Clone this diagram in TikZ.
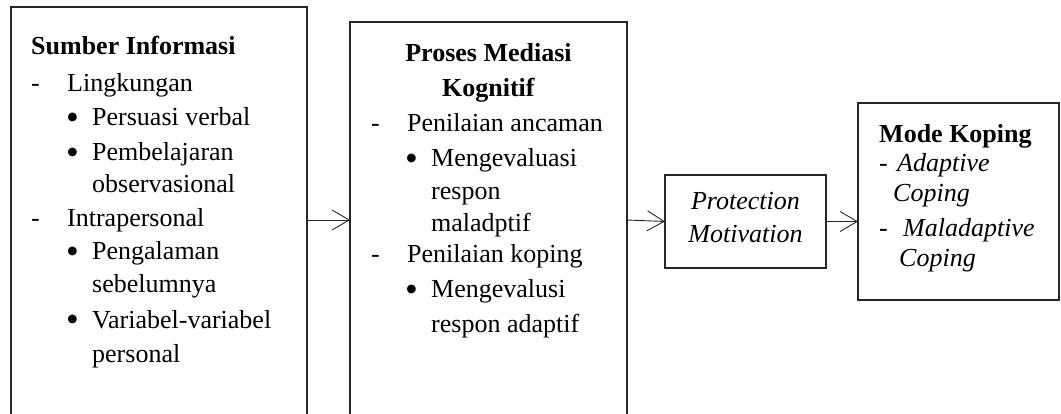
\documentclass[tikz,border=0pt]{standalone}
\usepackage{fontspec}
\setmainfont{Liberation Serif}
\usetikzlibrary{arrows.meta}
\newcommand\fsz{\fontsize{26pt}{30pt}\selectfont}
\newcommand\bul{\raisebox{-3.5pt}{\scalebox{1.4}{•}}}
\tikzset{
  box/.style={draw=black!85, line width=1.1pt, outer sep=0pt, inner sep=0pt, anchor=north west},
  txt/.style={anchor=base west, inner sep=0pt, font=\fsz},
  ctxt/.style={anchor=base, inner sep=0pt, font=\fsz},
  link/.style={draw=black!85, line width=0.9pt, -{Straight Barb[length=17pt,width=20pt]}}
}
\begin{document}
\begin{tikzpicture}[x=1pt,y=-1pt]
\path[use as bounding box] (0,0) rectangle (1061,414);
\clip (0,0) rectangle (1061,414);
% boxes
\node[box, minimum width=296pt, minimum height=426pt] (b1) at (11,7) {};
\node[box, minimum width=277pt, minimum height=396pt] (b2) at (350,22) {};
\node[box, minimum width=161pt, minimum height=93pt] (b3) at (665,175) {};
\node[box, minimum width=201pt, minimum height=197pt] (b4) at (858,103) {};
% box 1 text
\node[txt] (s1t) at (31,55) {\textbf{Sumber Informasi}};
\node[txt] (s1d1) at (31,92) {-};
\node[txt] (s1l1) at (67,92) {Lingkungan};
\node[txt] (s1b1) at (66,126) {\bul};
\node[txt] (s1l2) at (92,126) {Persuasi verbal};
\node[txt] (s1b2) at (66,161) {\bul};
\node[txt] (s1l3) at (92,161) {Pembelajaran};
\node[txt] (s1l4) at (92,193) {observasional};
\node[txt] (s1d2) at (31,227) {-};
\node[txt] (s1l5) at (67,227) {Intrapersonal};
\node[txt] (s1b3) at (66,260) {\bul};
\node[txt] (s1l6) at (92,260) {Pengalaman};
\node[txt] (s1l7) at (92,293) {sebelumnya};
\node[txt] (s1b4) at (66,328) {\bul};
\node[txt] (s1l8) at (92,328) {Variabel-variabel};
\node[txt] (s1l9) at (92,362) {personal};
% box 2 text
\node[ctxt] (s2t1) at (488.5,62) {\textbf{Proses Mediasi}};
\node[ctxt] (s2t2) at (488.5,97) {\textbf{Kognitif}};
\node[txt] (s2d1) at (371,132) {-};
\node[txt] (s2l1) at (407,132) {Penilaian ancaman};
\node[txt] (s2b1) at (405,167) {\bul};
\node[txt] (s2l2) at (431,167) {Mengevaluasi};
\node[txt] (s2l3) at (431,200) {respon};
\node[txt] (s2l4) at (431,232) {maladptif};
\node[txt] (s2d2) at (371,263) {-};
\node[txt] (s2l5) at (407,263) {Penilaian koping};
\node[txt] (s2b2) at (405,298) {\bul};
\node[txt] (s2l6) at (431,298) {Mengevalusi};
\node[txt] (s2l7) at (431,332) {respon adaptif};
% box 3 text
\node[ctxt] (s3l1) at (745.5,210) {\textit{Protection}};
\node[ctxt] (s3l2) at (745.5,243) {\textit{Motivation}};
% box 4 text
\node[txt] (s4t) at (879,143) {\textbf{Mode Koping}};
\node[txt] (s4d1) at (879,172) {-};
\node[txt] (s4l1) at (897,172) {\textit{Adaptive}};
\node[txt] (s4l2) at (893,202) {\textit{Coping}};
\node[txt] (s4d2) at (879,237) {-};
\node[txt] (s4l3) at (903,237) {\textit{Maladaptive}};
\node[txt] (s4l4) at (899,267) {\textit{Coping}};
% connectors
\draw[link] (b1.east) -- (b2.west);
\draw[link] (b2.east) -- (b3.west);
\draw[link] (b3.east) -- (b3.east -| b4.west);
\end{tikzpicture}
\end{document}
